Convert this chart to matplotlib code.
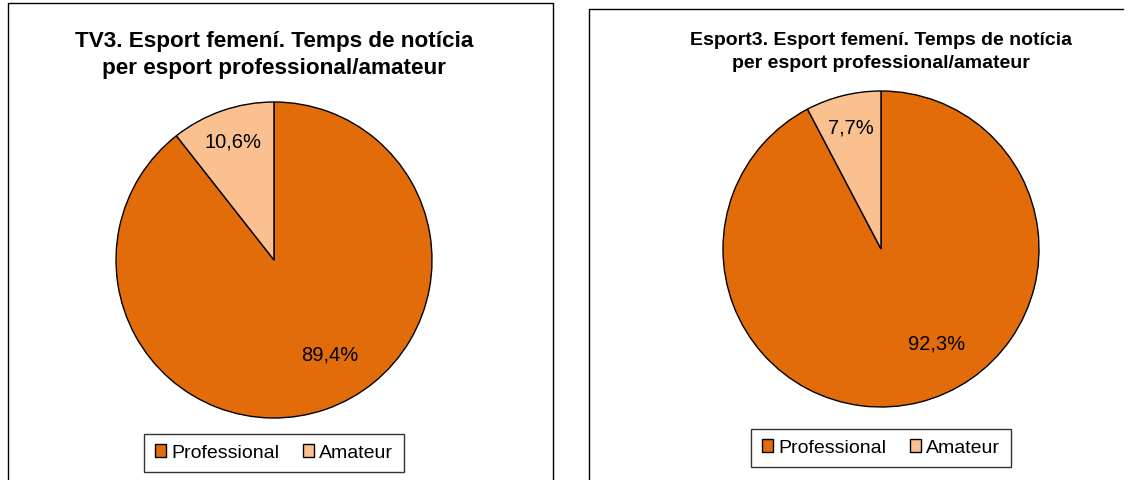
import matplotlib.pyplot as plt
from matplotlib.lines import Line2D

plt.rcParams['font.family'] = ['Liberation Sans', 'DejaVu Sans']

# data
categories = ["Professional", "Amateur"]
tv3_values = [89.4, 10.6]
esport3_values = [92.3, 7.7]
titles = ["TV3. Esport femení. Temps de notícia\nper esport professional/amateur",
          "Esport3. Esport femení. Temps de notícia\nper esport professional/amateur"]
colors = ["#E36C0A", "#FAC090"]

W, H = 1131, 480
fig = plt.figure(figsize=(W / 100, H / 100), dpi=100)


def px_line(x, y):
    # line in pixel coords (origin top-left)
    fig.add_artist(Line2D([v / W for v in x], [1 - v / H for v in y],
                          color="black", linewidth=1))


def draw_panel(cx, cy, r, values, title, title_y, title_size, title_ls, leg_y):
    ax = fig.add_axes([(cx - r) / W, 1 - (cy + r) / H, 2 * r / W, 2 * r / H])
    wedges, texts, autotexts = ax.pie(
        values, colors=colors, startangle=90, counterclock=False,
        autopct=lambda p: f"{p:.1f}%".replace(".", ","),
        pctdistance=0.75,
        wedgeprops=dict(edgecolor="black", linewidth=1),
        textprops=dict(fontsize=14.5),
    )
    # nudge the labels like the original
    autotexts[0].set_position((0.35, -0.6))
    x, y = autotexts[1].get_position()
    autotexts[1].set_position((x * 1.05, y * 1.05))
    ax.set_xlim(-1.0, 1.0)
    ax.set_ylim(-1.0, 1.0)
    ax.set_aspect("equal")

    fig.text(cx / W, 1 - title_y / H, title, ha="center", va="center",
             fontsize=title_size, fontweight="bold", linespacing=title_ls)

    leg = fig.legend(wedges, categories, loc="center",
                     bbox_to_anchor=(cx / W, 1 - leg_y / H),
                     ncol=2, fontsize=14, frameon=True, fancybox=False,
                     handlelength=0.6, handleheight=0.6, handletextpad=0.25,
                     columnspacing=1.2, borderpad=0.55, borderaxespad=0)
    leg.get_frame().set_edgecolor("black")
    leg.get_frame().set_linewidth(1)


# panel borders
px_line([8, 8, 553, 553], [480, 3, 3, 480])
px_line([589, 589, 1123], [480, 9, 9])

draw_panel(274, 260, 158, tv3_values, titles[0], 55, 16.2, 1.35, 453)
draw_panel(881, 249, 158, esport3_values, titles[1], 52, 14, 1.5, 448)

fig.savefig("out.png", dpi=100)
